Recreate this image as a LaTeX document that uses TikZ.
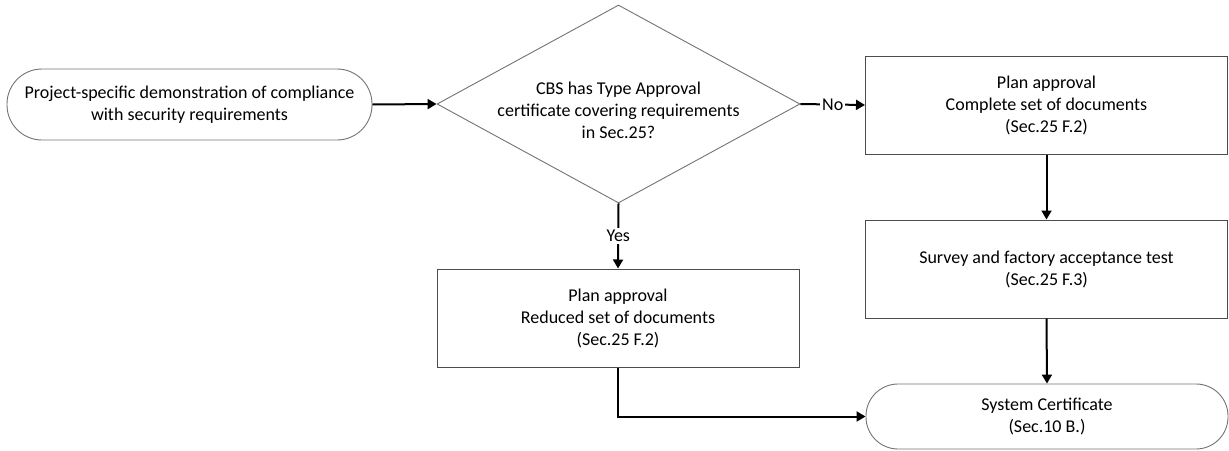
\documentclass[tikz,border=0pt]{standalone}
\usepackage{fontspec}
\setmainfont{Carlito}
\usetikzlibrary{arrows.meta,shapes.geometric}
\begin{document}
\begin{tikzpicture}[x=1pt,y=-1pt,
  every node/.style={font=\fontsize{18}{22}\selectfont},
  term/.style={draw=black!55, line width=0.9pt, rounded corners=35pt, align=center, inner sep=0pt},
  procbox/.style={draw=black!70, line width=1pt, align=center, inner sep=0pt},
  decis/.style={draw=black!55, line width=0.9pt, diamond, aspect=1.833, inner sep=0pt},
  flow/.style={line width=2pt, -{Triangle[length=9pt,width=10pt]}},
  lbl/.style={fill=white, inner sep=2pt}
]
\useasboundingbox (0,0) rectangle (1229,450);
\node[term, minimum width=365pt, minimum height=71pt] (start) at (189.5,104.5)
  {Project-specific demonstration of compliance\\with security requirements};
\node[decis, minimum width=363pt, minimum height=198pt] (q) at (618.5,104) {};
\node[align=center] (qt) at (618.5,110)
  {CBS has Type Approval\\certificate covering requirements\\in Sec.25?};
\node[procbox, minimum width=362pt, minimum height=98pt] (full) at (1046.5,105)
  {Plan approval\\Complete set of documents\\(Sec.25 F.2)};
\node[procbox, minimum width=362pt, minimum height=98pt] (survey) at (1046.5,269)
  {Survey and factory acceptance test\\(Sec.25 F.3)};
\node[procbox, minimum width=362pt, minimum height=98pt] (reduced) at (618,318)
  {Plan approval\\Reduced set of documents\\(Sec.25 F.2)};
\node[term, minimum width=362pt, minimum height=65pt, rounded corners=32pt] (cert) at (1047,416.5)
  {System Certificate\\(Sec.10 B.)};
\draw[flow] (start.east) -- (q.west);
\draw[flow] (q.east) -- node[lbl] {No} (full.west);
\draw[flow] (q.south) -- node[lbl, pos=0.5] {Yes} (reduced.north);
\draw[flow] (full.south) -- (survey.north);
\draw[flow] (survey.south) -- (cert.north);
\draw[flow] (reduced.south) |- (cert.west);
\end{tikzpicture}
\end{document}
